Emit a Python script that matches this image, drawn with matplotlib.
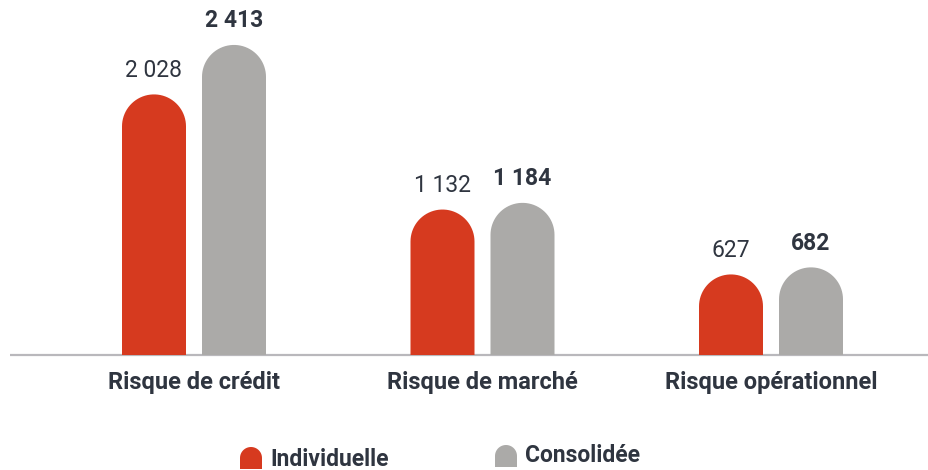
import matplotlib
matplotlib.use("Agg")
import matplotlib.pyplot as plt
from matplotlib.path import Path
from matplotlib.patches import PathPatch
import numpy as np

categories = ["Risque de crédit", "Risque de marché", "Risque opérationnel"]
individuelle = [2028, 1132, 627]
consolidee = [2413, 1184, 682]
labels_ind = ["2 028", "1 132", "627"]
labels_con = ["2 413", "1 184", "682"]
series_names = ["Individuelle", "Consolidée"]

RED = "#d63a1f"
GREY = "#abaaa8"
TXT = "#2f3540"
FONT = ["Liberation Sans Narrow", "DejaVu Sans Condensed", "Roboto", "DejaVu Sans"]

W, H = 929, 470
fig = plt.figure(figsize=(W / 100, H / 100), dpi=100)
ax = fig.add_axes([0, 0, 1, 1])
ax.set_axis_off()

px_x = 288.5          # pixels per x unit
px_y = 0.1285         # pixels per value unit
x0_pix = 194
base_pix = 115
ax.set_xlim(-x0_pix / px_x, (W - x0_pix) / px_x)
ax.set_ylim(-base_pix / px_y, (H - base_pix) / px_y)

bw = 64 / px_x
off = 40 / px_x


def rounded_bar(ax, xc, val, width, color):
    rx = width / 2
    ry = rx * px_x / px_y
    top = max(val - ry, 0)
    t = np.linspace(np.pi, 0, 40)
    xs = list(xc + rx * np.cos(t))
    ys = list(top + ry * np.sin(t))
    verts = [(xc - rx, 0)] + list(zip(xs, ys)) + [(xc + rx, 0), (xc - rx, 0)]
    codes = [Path.MOVETO] + [Path.LINETO] * (len(verts) - 2) + [Path.CLOSEPOLY]
    ax.add_patch(PathPatch(Path(verts, codes), facecolor=color, edgecolor="none", zorder=2))


x = np.arange(len(categories))
for i in x:
    rounded_bar(ax, i - off, individuelle[i], bw, RED)
    rounded_bar(ax, i + off, consolidee[i], bw, GREY)
    ax.text(i - off, individuelle[i] + 100, labels_ind[i], ha="center", va="bottom",
            fontsize=16.5, color=TXT, family=FONT)
    ax.text(i + off, consolidee[i] + 100, labels_con[i], ha="center", va="bottom",
            fontsize=16.5, color=TXT, family=FONT, fontweight="bold")
    ax.text(i, -125, categories[i], ha="center", va="top", fontsize=17,
            color=TXT, family=FONT, fontweight="bold")

# baseline
ax.plot([ax.get_xlim()[0] + 10 / px_x, ax.get_xlim()[1]], [0, 0], color="#b9b8bc",
        lw=1.6, zorder=1, solid_capstyle="butt")

# legend (figure pixel coords)
lax = fig.add_axes([0, 0, 1, 1])
lax.set_axis_off()
lax.set_xlim(0, W)
lax.set_ylim(H, 0)


def legend_marker(xl, ytop, size, color):
    r = size / 2
    t = np.linspace(np.pi, 0, 30)
    xs = list(xl + r + r * np.cos(t))
    ys = list(ytop + r - r * np.sin(t))
    verts = [(xl, ytop + size)] + list(zip(xs, ys)) + [(xl + size, ytop + size), (xl, ytop + size)]
    codes = [Path.MOVETO] + [Path.LINETO] * (len(verts) - 2) + [Path.CLOSEPOLY]
    lax.add_patch(PathPatch(Path(verts, codes), facecolor=color, edgecolor="none"))


legend_marker(240, 447, 22, RED)
lax.text(270, 459, series_names[0], ha="left", va="center", fontsize=16.5, color=TXT,
         family=FONT, fontweight="bold")
legend_marker(495, 445, 22, GREY)
lax.text(525, 455, series_names[1], ha="left", va="center", fontsize=16.5, color=TXT,
         family=FONT, fontweight="bold")

fig.savefig("out.png", dpi=100, facecolor="white")
